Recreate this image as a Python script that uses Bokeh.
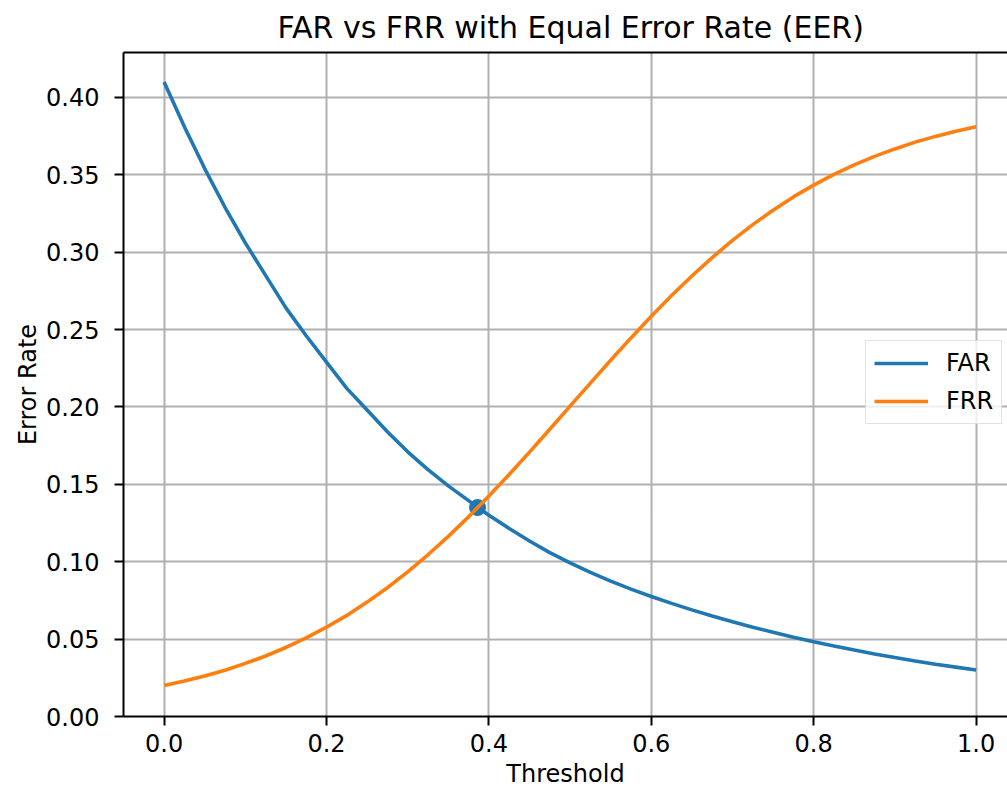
from bokeh.plotting import figure
from bokeh.models import Range1d, FixedTicker, LinearAxis, Legend, LegendItem
from bokeh.embed import file_html
from bokeh.resources import INLINE

# ---- data ----
threshold = [0.000, 0.025, 0.050, 0.075, 0.100, 0.125, 0.150, 0.175, 0.200, 0.225,
             0.250, 0.275, 0.300, 0.325, 0.350, 0.375, 0.400, 0.425, 0.450, 0.475,
             0.500, 0.525, 0.550, 0.575, 0.600, 0.625, 0.650, 0.675, 0.700, 0.725,
             0.750, 0.775, 0.800, 0.825, 0.850, 0.875, 0.900, 0.925, 0.950, 0.975,
             1.000]
far = [0.4100, 0.3810, 0.3540, 0.3290, 0.3060, 0.2850, 0.2640, 0.2460, 0.2290, 0.2120,
       0.1980, 0.1840, 0.1710, 0.1595, 0.1490, 0.1395, 0.1300, 0.1215, 0.1134, 0.1059,
       0.0992, 0.0931, 0.0875, 0.0823, 0.0775, 0.0731, 0.0689, 0.0649, 0.0612, 0.0577,
       0.0544, 0.0512, 0.0483, 0.0455, 0.0429, 0.0404, 0.0381, 0.0359, 0.0338, 0.0319,
       0.0300]
frr = [0.0200, 0.0229, 0.0262, 0.0299, 0.0343, 0.0391, 0.0446, 0.0508, 0.0577, 0.0653,
       0.0739, 0.0832, 0.0934, 0.1045, 0.1164, 0.1290, 0.1424, 0.1564, 0.1708, 0.1856,
       0.2005, 0.2154, 0.2302, 0.2446, 0.2586, 0.2720, 0.2846, 0.2965, 0.3076, 0.3178,
       0.3271, 0.3357, 0.3433, 0.3502, 0.3564, 0.3619, 0.3667, 0.3711, 0.3748, 0.3781,
       0.3810]
eer_threshold = [0.386]
eer_value = [0.135]

x_ticks = [0.0, 0.2, 0.4, 0.6, 0.8, 1.0]
x_tick_labels = ["0.0", "0.2", "0.4", "0.6", "0.8", "1.0"]
y_ticks = [0.00, 0.05, 0.10, 0.15, 0.20, 0.25, 0.30, 0.35, 0.40]
y_tick_labels = ["0.00", "0.05", "0.10", "0.15", "0.20", "0.25", "0.30", "0.35", "0.40"]

FONT = "DejaVu Sans"
BLUE = "#1f77b4"
ORANGE = "#ff7f0e"

p = figure(width=1007, height=790, output_backend="svg", toolbar_location=None,
           x_range=Range1d(-0.05, 1.0387), y_range=Range1d(0.0, 0.429),
           min_border_left=123, min_border_right=0, min_border_top=51,
           min_border_bottom=74, background_fill_color="white",
           border_fill_color="white")
p.outline_line_color = None

p.title.text = "FAR vs FRR with Equal Error Rate (EER)"
p.title.text_font = FONT
p.title.text_font_size = "30px"
p.title.text_font_style = "normal"
p.title.text_color = "black"
p.title.align = "left"
p.title.offset = 154
p.title.standoff = 15

# scatter first (matplotlib draws lines on top of the scatter)
p.scatter(eer_threshold, eer_value, size=16, color=BLUE)
r_far = p.line(threshold, far, line_color=BLUE, line_width=3.6)
r_frr = p.line(threshold, frr, line_color=ORANGE, line_width=3.6)

for ax in (p.xaxis[0], p.yaxis[0]):
    ax.axis_line_width = 2
    ax.axis_line_color = "black"
    ax.major_tick_line_width = 2
    ax.major_tick_line_color = "black"
    ax.major_tick_out = 9
    ax.major_tick_in = 0
    ax.minor_tick_line_color = None
    ax.major_label_text_font = FONT
    ax.major_label_text_font_size = "24px"
    ax.major_label_text_color = "black"
    ax.axis_label_text_font = FONT
    ax.axis_label_text_font_size = "24px"
    ax.axis_label_text_font_style = "normal"
    ax.axis_label_text_color = "black"

p.xaxis.ticker = FixedTicker(ticks=x_ticks)
p.xaxis.major_label_overrides = {t: l for t, l in zip(x_ticks, x_tick_labels)}
p.xaxis.major_label_standoff = 8
p.xaxis.axis_label = "Threshold"
p.xaxis.axis_label_standoff = 5
p.yaxis.ticker = FixedTicker(ticks=y_ticks)
p.yaxis.major_label_overrides = {t: l for t, l in zip(y_ticks, y_tick_labels)}
p.yaxis.major_label_standoff = 15
p.yaxis.axis_label = "Error Rate"
p.yaxis.axis_label_standoff = 1

top = LinearAxis(ticker=FixedTicker(ticks=[]), axis_line_width=2, axis_line_color="black",
                 major_tick_line_color=None, minor_tick_line_color=None,
                 major_label_standoff=0, major_label_text_font_size="0px")
p.add_layout(top, "above")

p.grid.grid_line_color = "#b0b0b0"
p.grid.grid_line_width = 2
p.xgrid.ticker = FixedTicker(ticks=x_ticks)
p.ygrid.ticker = FixedTicker(ticks=y_ticks)

legend = Legend(items=[LegendItem(label="FAR", renderers=[r_far]),
                       LegendItem(label="FRR", renderers=[r_frr])],
                location=(742, 292), orientation="vertical")
legend.label_text_font = FONT
legend.label_text_font_size = "24px"
legend.label_text_color = "black"
legend.glyph_width = 54
legend.glyph_height = 28
legend.label_height = 28
legend.label_standoff = 18
legend.spacing = 10
legend.padding = 8
legend.margin = 0
legend.border_line_color = "#c8c8c8"
legend.border_line_width = 1.5
legend.background_fill_color = "white"
legend.background_fill_alpha = 0.8
p.add_layout(legend, "center")

open("out.html", "w").write(file_html(p, INLINE))
